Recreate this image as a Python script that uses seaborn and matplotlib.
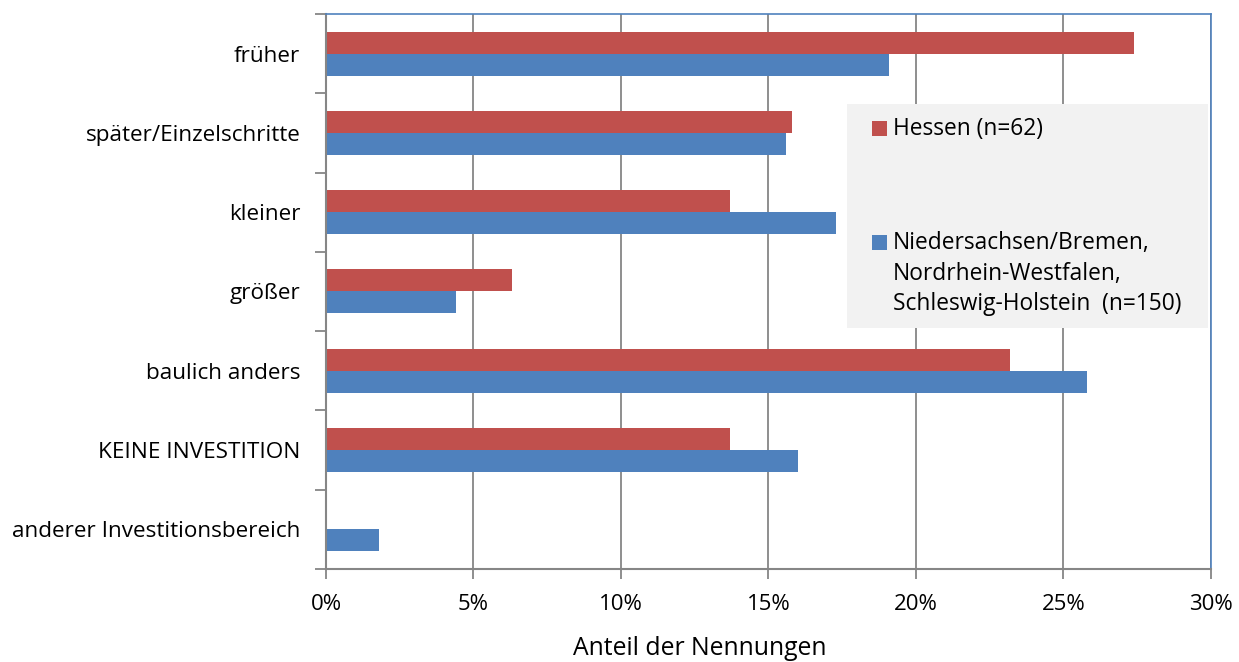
import matplotlib
matplotlib.use("Agg")
import matplotlib.pyplot as plt
from matplotlib.patches import Rectangle
from matplotlib.ticker import FixedLocator, FuncFormatter
import seaborn as sns
import pandas as pd
import numpy as np

categories = ["früher", "später/Einzelschritte", "kleiner", "größer",
              "baulich anders", "KEINE INVESTITION", "anderer Investitionsbereich"]
hessen = [27.4, 15.8, 13.7, 6.3, 23.2, 13.7, 0.0]
nord = [19.1, 15.6, 17.3, 4.4, 25.8, 16.0, 1.8]
series_names = ["Hessen (n=62)",
                "Niedersachsen/Bremen,\nNordrhein-Westfalen,\nSchleswig-Holstein  (n=150)"]
colors = {series_names[0]: "#c0504d", series_names[1]: "#4f81bd"}
x_ticks = [0, 5, 10, 15, 20, 25, 30]

df = pd.DataFrame({
    "Kategorie": categories * 2,
    "Anteil": hessen + nord,
    "Gruppe": [series_names[0]] * len(categories) + [series_names[1]] * len(categories),
})

sns.set_theme(style="white")
plt.rcParams["font.family"] = ["Open Sans", "DejaVu Sans"]

fig = plt.figure(figsize=(12.39, 6.62), dpi=100)
ax = fig.add_axes([0.2631, 0.1405, 0.7143, 0.8384])

sns.barplot(data=df, y="Kategorie", x="Anteil", hue="Gruppe", order=categories,
            hue_order=series_names, palette=colors, orient="h", width=0.555,
            saturation=1, edgecolor="none", linewidth=0, legend=False, ax=ax)

ax.set_xlim(0, 30)
ax.set_ylim(len(categories) - 0.5, -0.5)
ax.xaxis.set_major_locator(FixedLocator(x_ticks))
ax.xaxis.set_major_formatter(FuncFormatter(lambda v, p: f"{v:.0f}%"))
ax.grid(axis="x", color="#868686", linewidth=1.3, zorder=0)
ax.grid(axis="y", visible=False)
ax.set_axisbelow(True)

# category labels centred, tick marks on the boundaries between categories
ax.yaxis.set_minor_locator(FixedLocator(np.arange(-0.5, len(categories), 1.0)))
ax.tick_params(axis="y", which="major", length=0, pad=18.5, labelsize=16.2, labelcolor="black")
ax.tick_params(axis="y", which="minor", length=8, width=1.3, color="#868686", left=True)
ax.tick_params(axis="x", which="major", length=7, width=1.3, color="#868686", bottom=True,
               pad=11, labelsize=16, labelcolor="black")

ax.set_ylabel("")
ax.set_xlabel("Anteil der Nennungen", fontsize=17.8, color="black")
ax.xaxis.set_label_coords(0.4226, -0.121)

for side in ("left", "bottom"):
    ax.spines[side].set_color("#868686")
    ax.spines[side].set_linewidth(1.5)
for side in ("top", "right"):
    ax.spines[side].set_color("#4f81bd")
    ax.spines[side].set_linewidth(1.2)

# legend panel
W, H = 1239.0, 662.0
def fx(px):
    return px / W
def fy(py):
    return 1 - py / H

fig.patches.append(Rectangle((fx(847), fy(328)), fx(1208) - fx(847), fy(104) - fy(328),
                             transform=fig.transFigure, facecolor="#f2f2f2",
                             edgecolor="none", zorder=2))
entry_rows = [128, 242]
for name, row in zip(series_names, entry_rows):
    fig.patches.append(Rectangle((fx(872), fy(row + 7.5)), fx(15), 15 / H,
                                 transform=fig.transFigure, facecolor=colors[name],
                                 edgecolor="none", zorder=3))
    fig.text(fx(893), fy(row - 11), name, ha="left", va="top", fontsize=16.4,
             linespacing=1.37, color="black", zorder=4)

fig.savefig("out.png", dpi=100)
